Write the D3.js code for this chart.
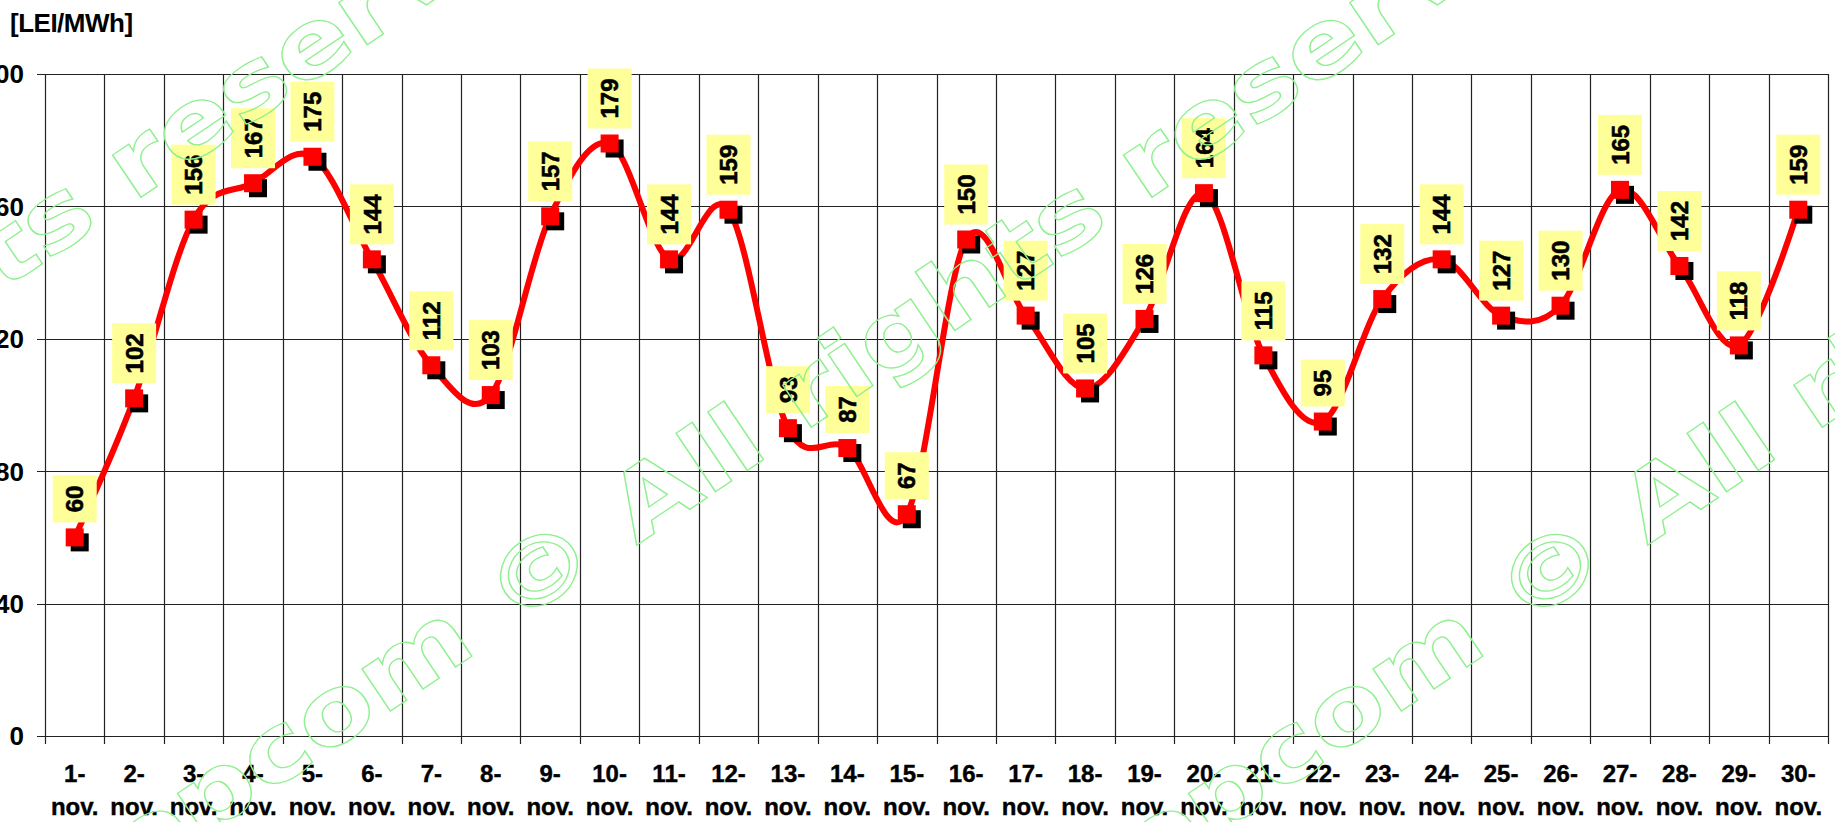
<!DOCTYPE html>
<html>
<head>
<meta charset="utf-8">
<script src="https://d3js.org/d3.v7.min.js"></script>
<style>
  body { margin: 0; background: #fff; overflow: hidden; }
  svg { display: block; font-family: "Liberation Sans", Arial, sans-serif; }
</style>
</head>
<body>
<svg id="chart" width="1835" height="822"></svg>
<script>
// daily prices, november
var days = ["1-nov.", "2-nov.", "3-nov.", "4-nov.", "5-nov.", "6-nov.", "7-nov.", "8-nov.", "9-nov.", "10-nov.",
            "11-nov.", "12-nov.", "13-nov.", "14-nov.", "15-nov.", "16-nov.", "17-nov.", "18-nov.", "19-nov.", "20-nov.",
            "21-nov.", "22-nov.", "23-nov.", "24-nov.", "25-nov.", "26-nov.", "27-nov.", "28-nov.", "29-nov.", "30-nov."];
var prices = [60, 102, 156, 167, 175, 144, 112, 103, 157, 179,
              144, 159, 93, 87, 67, 150, 127, 105, 126, 164,
              115, 95, 132, 144, 127, 130, 165, 142, 118, 159];
var yTicks = [0, 40, 80, 120, 160, 200];
var unitLabel = "[LEI/MWh]";
var watermark = "opcom © All rights reserved";
var watermarkShifts = [-1011, 0, 1011];

// plot box (window.top is read-only, so no "top" here)
var plotL = 45, plotR = 1828, plotT = 74, plotB = 736;

var svg = d3.select("#chart");
var x = d3.scaleBand().domain(days).range([plotL, plotR]);
var y = d3.scaleLinear().domain([0, 200]).range([plotB, plotT]);
var bw = x.bandwidth();
function cx(i) { return x(days[i]) + bw / 2; }

// unit label
svg.append("text")
    .attr("x", 10).attr("y", 32)
    .attr("font-size", 26).attr("font-weight", "bold")
    .attr("letter-spacing", -0.5)
    .text(unitLabel);

// horizontal grid
svg.append("g").selectAll("line").data(yTicks).enter().append("line")
    .attr("x1", plotL - 8).attr("x2", plotR)
    .attr("y1", function(d) { return Math.round(y(d)) + 0.5; })
    .attr("y2", function(d) { return Math.round(y(d)) + 0.5; })
    .attr("stroke", "#222").attr("stroke-width", 1.2);

// vertical grid + x ticks
var bounds = days.map(function(d) { return x(d); }).concat([plotR]);
svg.append("g").selectAll("line").data(bounds).enter().append("line")
    .attr("x1", function(d) { return Math.round(d) + 0.5; })
    .attr("x2", function(d) { return Math.round(d) + 0.5; })
    .attr("y1", plotT).attr("y2", plotB + 8)
    .attr("stroke", "#222").attr("stroke-width", 1.2);

// y labels
svg.append("g").selectAll("text").data(yTicks).enter().append("text")
    .attr("x", 24).attr("y", function(d) { return y(d); })
    .attr("dy", "0.36em")
    .attr("text-anchor", "end")
    .attr("font-size", 26).attr("font-weight", "bold")
    .text(function(d) { return d; });

// x labels, two lines
var xl = svg.append("g").selectAll("text").data(days).enter().append("text")
    .attr("text-anchor", "middle")
    .attr("font-size", 24).attr("font-weight", "bold")
    .attr("stroke", "#000").attr("stroke-width", 0.4);
xl.append("tspan")
    .attr("x", function(d, i) { return cx(i); }).attr("y", 782)
    .text(function(d) { return d.split("-")[0] + "-"; });
xl.append("tspan")
    .attr("x", function(d, i) { return cx(i); }).attr("y", 815)
    .text(function(d) { return d.split("-")[1]; });

// smoothed line
var line = d3.line()
    .x(function(d, i) { return cx(i); })
    .y(function(d) { return y(d); })
    .curve(d3.curveCardinal.tension(0));
svg.append("path").datum(prices)
    .attr("d", line)
    .attr("fill", "none")
    .attr("stroke", "#ff0000")
    .attr("stroke-width", 6)
    .attr("stroke-linejoin", "round");

// marker shadows + markers
svg.append("g").selectAll("rect").data(prices).enter().append("rect")
    .attr("x", function(d, i) { return cx(i) - 9 + 5; })
    .attr("y", function(d) { return y(d) - 9 + 5; })
    .attr("width", 18).attr("height", 18)
    .attr("fill", "#000");
svg.append("g").selectAll("rect").data(prices).enter().append("rect")
    .attr("x", function(d, i) { return cx(i) - 9; })
    .attr("y", function(d) { return y(d) - 9; })
    .attr("width", 18).attr("height", 18)
    .attr("fill", "#ff0000");

// value labels in yellow boxes, rotated
var lab = svg.append("g").selectAll("g").data(prices).enter().append("g")
    .attr("transform", function(d, i) { return "translate(" + cx(i) + "," + (y(d) - 15) + ")"; });
lab.each(function(d) {
    var g = d3.select(this);
    var box = g.append("rect").attr("fill", "#ffff99");
    var t = g.append("text")
        .attr("text-anchor", "middle")
        .attr("dy", "0.36em")
        .attr("font-size", 24).attr("font-weight", "bold")
        .attr("stroke", "#000").attr("stroke-width", 0.6)
        .text(d);
    var len = t.node().getComputedTextLength();
    var h = Math.round(len + 20);
    box.attr("x", -22).attr("y", -h).attr("width", 44).attr("height", h);
    t.attr("transform", "translate(0," + (-h / 2) + ") rotate(-90)");
});

// watermark
watermarkShifts.forEach(function(off) {
    var g = svg.append("g")
        .attr("transform", "translate(" + (557.7 + off) + ",598.3) rotate(-34) scale(1.2,1)");
    var t = g.append("text")
        .attr("font-family", "'DejaVu Sans', sans-serif")
        .attr("font-weight", "bold")
        .attr("font-size", 93)
        .attr("fill", "none")
        .attr("stroke", "#8ff08f")
        .attr("stroke-width", 1.4)
        .attr("vector-effect", "non-scaling-stroke")
        .text(watermark);
    var n = t.node();
    var shift = n.getSubStringLength(0, 6) + n.getSubStringLength(6, 1) / 2;
    t.attr("x", -shift);
});
</script>
</body>
</html>
